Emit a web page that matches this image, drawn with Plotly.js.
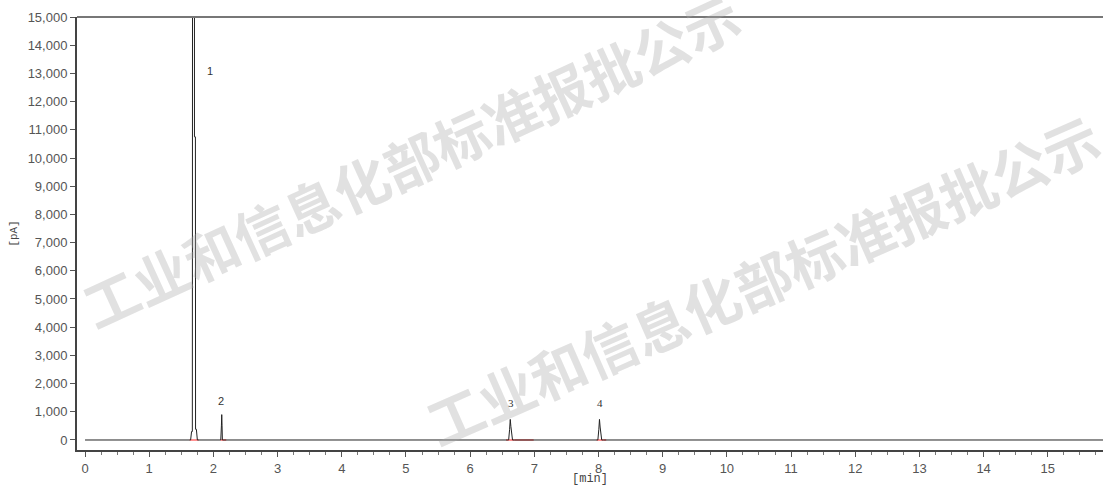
<!DOCTYPE html>
<html>
<head>
<meta charset="utf-8">
<script src="https://cdn.plot.ly/plotly-3.0.1.min.js"></script>
<style>
html,body{margin:0;padding:0;background:#fff;}
#chart{width:1103px;height:486px;}
</style>
</head>
<body>
<div id="chart"></div>
<script>
// Chromatogram signal (time in min, signal in pA)
const timeMin = [0, 1.62, 1.645, 1.66, 1.672, 1.675, 1.705, 1.705, 1.72, 1.722, 1.735, 1.75, 1.77,
  2.10, 2.115, 2.125, 2.13, 2.135, 2.14, 2.15, 2.17,
  6.57, 6.60, 6.615, 6.625, 6.635, 6.645, 6.66, 6.69,
  7.97, 7.99, 8.005, 8.015, 8.025, 8.035, 8.05, 8.08, 15.9];
const signalPA = [0, 0, 0, 300, 300, 17000, 17000, 10750, 10750, 380, 380, 0, 0,
  0, 0, 500, 900, 500, 0, 0, 0,
  0, 0, 380, 730, 480, 300, 0, 0,
  0, 0, 380, 730, 460, 280, 0, 0, 0];

// Integration baselines (red marks) start / end
const baseStart = [1.63, 2.11, 6.56, 7.97];
const baseEnd   = [1.77, 2.20, 6.99, 8.12];

// Peak labels
const peakNames  = ["1", "2", "3", "4"];
const peakLabelX = [1.95, 2.12, 6.64, 8.02];
const peakLabelY = [13100, 1380, 1310, 1310];

// Axis ticks
const yTickVals = [0,1000,2000,3000,4000,5000,6000,7000,8000,9000,10000,11000,12000,13000,14000,15000];
const xTickVals = [0,1,2,3,4,5,6,7,8,9,10,11,12,13,14,15,16];

const watermark = "工业和信息化部标准报批公示";

const bx = [], by = [];
for (let i = 0; i < baseStart.length; i++) {
  bx.push(baseStart[i], baseEnd[i], null);
  by.push(0, 0, null);
}

const traces = [
  {x: bx, y: by, mode: "lines", line: {color: "#ff6b6b", width: 1.5}, hoverinfo: "skip"},
  {x: timeMin, y: signalPA, mode: "lines", line: {color: "#222", width: 1}, hoverinfo: "skip"}
];

const annotations = peakNames.map((n, i) => ({
  x: peakLabelX[i], y: peakLabelY[i], xref: "x", yref: "y", text: n, showarrow: false,
  font: {family: i < 2 ? "Liberation Sans, Arial" : "Liberation Serif, serif", size: 11, color: "#333"}
}));
annotations.push(
  {xref: "paper", yref: "paper", x: 0.3255, y: 0.672, xanchor: "center", yanchor: "middle",
   text: watermark, showarrow: false, textangle: -24.6,
   font: {family: "Noto Sans CJK SC", size: 55, weight: 700, color: "rgba(170,170,170,0.35)"}},
  {xref: "paper", yref: "paper", x: 0.668, y: 0.397, xanchor: "center", yanchor: "middle",
   text: watermark, showarrow: false, textangle: -23.7,
   font: {family: "Noto Sans CJK SC", size: 56, weight: 700, color: "rgba(170,170,170,0.35)"}}
);

const layout = {
  width: 1103, height: 486,
  margin: {l: 77, r: 0, t: 17, b: 36, pad: 0},
  paper_bgcolor: "#fff", plot_bgcolor: "#fff",
  showlegend: false,
  font: {family: "Liberation Sans, Arial, sans-serif", size: 13, color: "#555"},
  xaxis: {
    range: [-0.125, 15.86], tickvals: xTickVals, ticks: "outside", ticklen: 5, tickcolor: "#555",
    showgrid: false, zeroline: false, showline: true, linecolor: "#444", linewidth: 2,
    minor: {dtick: 0.25, tick0: 0, ticks: "outside", ticklen: 3, tickcolor: "#777", showgrid: false},
    tickfont: {size: 13, color: "#555"},
    title: {text: "[min]", standoff: 0, font: {family: "Liberation Mono, monospace", size: 12, color: "#444"}}
  },
  yaxis: {
    range: [-355, 15000], tickvals: yTickVals, tickformat: ",d", ticks: "outside", ticklen: 5, tickcolor: "#555",
    showgrid: false, zeroline: false, showline: true, linecolor: "#444", linewidth: 2,
    tickfont: {size: 13, color: "#555"},
    title: {text: "[pA]", standoff: 8, font: {family: "Liberation Mono, monospace", size: 11, color: "#444"}}
  },
  shapes: [
    {type: "line", xref: "paper", yref: "paper", x0: 0, x1: 1, y0: 1, y1: 1, line: {color: "#777", width: 2}}
  ],
  annotations: annotations
};

Plotly.newPlot("chart", traces, layout, {staticPlot: true, displayModeBar: false});
</script>
</body>
</html>
